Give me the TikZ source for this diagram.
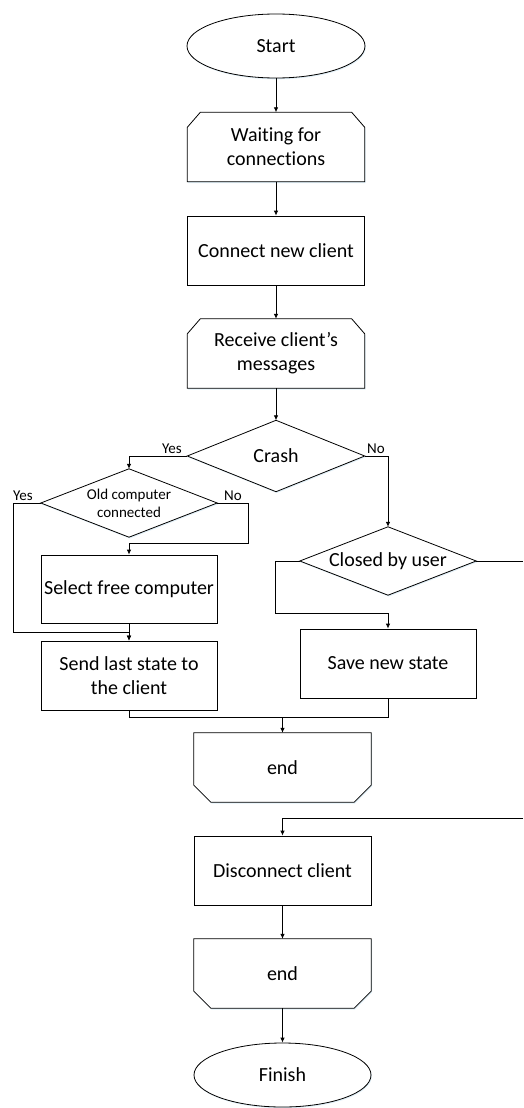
\documentclass[tikz,border=0pt]{standalone}
\usepackage{fontspec}
\setmainfont{Carlito}[Ligatures=NoCommon]
\usetikzlibrary{arrows.meta,shadows,shapes.geometric}
\pgfdeclarelayer{bg}
\pgfsetlayers{bg,main}

\tikzset{
  base/.style={inner sep=0pt, align=center, font=\fontsize{20}{24}\selectfont},
  sh/.style={drop shadow={shadow xshift=0.8pt, shadow yshift=-1.3pt, fill=blue!35!cyan!60!gray, opacity=0.15}},
  proc/.style={base, draw, line width=0.8pt, fill=white, sh, rectangle, minimum width=177pt, minimum height=69pt},
  term/.style={base, draw, line width=0.8pt, fill=white, sh, ellipse, minimum width=178pt, minimum height=64pt},
  frame/.style={base, rectangle, minimum width=177pt, minimum height=69pt},
  outline/.style={draw, line width=0.8pt, fill=white, sh},
  wire/.style={draw, line width=0.8pt},
  arr/.style={wire, -{Latex[length=5pt,width=4.5pt]}},
  lbl/.style={inner sep=0pt, font=\fontsize{15}{18}\selectfont},
}

\begin{document}
\begin{tikzpicture}[x=1pt,y=-1pt]
\useasboundingbox (0,0) rectangle (523,1108);

% main column
\node[term]  (start) at (276,46)    {Start};
\node[frame] (wait)  at (276,147)   {Waiting for\\connections};
\node[proc]  (conn)  at (276,250.5) {Connect new client};
\node[frame] (recv)  at (276,353.5) {Receive client’s\\messages};
\node[frame, minimum height=71pt] (crash) at (276,456) {Crash};

% crash branch
\node[frame, minimum width=176pt, minimum height=68pt, font=\fontsize{15}{18}\selectfont] (old) at (129,503) {Old computer\\connected};
\node[proc, minimum width=176pt, minimum height=68pt] (sel)  at (129,589)   {Select free computer};
\node[proc, minimum width=176pt] (send) at (129,675.5) {Send last state to\\the client};

% normal-exit branch
\node[frame, minimum width=176pt, minimum height=68pt] (closed) at (388,561) {Closed by user};
\node[proc, minimum width=176pt] (save) at (388,663.5) {Save new state};

% tail
\node[frame] (end1) at (282.5,767.5) {end};
\node[proc]  (disc) at (282.5,870.5) {Disconnect client};
\node[frame] (end2) at (282.5,973.5) {end};
\node[term, minimum width=177pt] (fin) at (282.5,1075) {Finish};

% outlines of the loop-limit boxes and decisions
\begin{pgfonlayer}{bg}
  \path[outline] (wait.south west) -- ([yshift=-15pt]wait.north west) -- ([xshift=13pt]wait.north west)
    -- ([xshift=-13pt]wait.north east) -- ([yshift=-15pt]wait.north east) -- (wait.south east) -- cycle;
  \path[outline] (recv.south west) -- ([yshift=-15pt]recv.north west) -- ([xshift=13pt]recv.north west)
    -- ([xshift=-13pt]recv.north east) -- ([yshift=-15pt]recv.north east) -- (recv.south east) -- cycle;
  \path[outline] (end1.north west) -- ([yshift=17pt]end1.south west) -- ([xshift=17pt]end1.south west)
    -- ([xshift=-17pt]end1.south east) -- ([yshift=17pt]end1.south east) -- (end1.north east) -- cycle;
  \path[outline] (end2.north west) -- ([yshift=17pt]end2.south west) -- ([xshift=17pt]end2.south west)
    -- ([xshift=-17pt]end2.south east) -- ([yshift=17pt]end2.south east) -- (end2.north east) -- cycle;
  \path[outline] (crash.north) -- (crash.east) -- (crash.south) -- (crash.west) -- cycle;
  \path[outline] (old.north) -- (old.east) -- (old.south) -- (old.west) -- cycle;
  \path[outline] (closed.north) -- (closed.east) -- (closed.south) -- (closed.west) -- cycle;
\end{pgfonlayer}

% branch labels
\node[lbl] (yes1) at (172,449) {Yes};
\node[lbl] (no1)  at (376,449) {No};
\node[lbl] (yes2) at (23,496)  {Yes};
\node[lbl] (no2)  at (233,496) {No};

% bend points
\coordinate (yl)    at (13,632);
\coordinate (nl)    at (248,543);
\coordinate (cl)    at (275,613);
\coordinate (mj)    at (282.5,717);
\coordinate (edgeA) at (523,561);
\coordinate (edgeB) at (523,818);

% connectors
\path[arr] (start) -- (wait);
\path[arr] (wait) -- (conn);
\path[arr] (conn) -- (recv);
\path[arr] (recv) -- (crash.north);
\path[arr] (crash.west) -| (old.north);
\path[arr] (crash.east) -| (closed.north);
\path[arr] (old.west) -| (yl) -- (yl -| send.north) -- (send.north);
\path[arr] (old.east) -| (nl) -- (nl -| sel.north) -- (sel.north);
\path[arr] (sel) -- (send);
\path[arr] (closed.west) -| (cl) -- (cl -| save.north) -- (save.north);
\path[wire] (closed.east) -- (edgeA);
\path[wire] (send.south) |- (mj);
\path[arr] (save.south) |- (mj) -- (end1.north);
\path[arr] (edgeB) -| (disc.north);
\path[arr] (disc) -- (end2);
\path[arr] (end2.south) -- (fin);
\end{tikzpicture}
\end{document}
